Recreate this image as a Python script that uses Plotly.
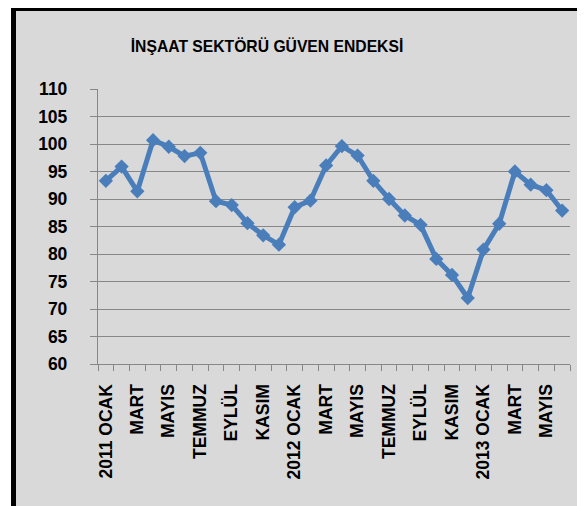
import plotly.graph_objects as go

title = "İNŞAAT SEKTÖRÜ GÜVEN ENDEKSİ"
months = ["2011 OCAK", "ŞUBAT", "MART", "NİSAN", "MAYIS", "HAZİRAN", "TEMMUZ", "AĞUSTOS",
          "EYLÜL", "EKİM", "KASIM", "ARALIK",
          "2012 OCAK", "ŞUBAT", "MART", "NİSAN", "MAYIS", "HAZİRAN", "TEMMUZ", "AĞUSTOS",
          "EYLÜL", "EKİM", "KASIM", "ARALIK",
          "2013 OCAK", "ŞUBAT", "MART", "NİSAN", "MAYIS", "HAZİRAN"]
values = [93.3, 95.9, 91.4, 100.7, 99.5, 97.8, 98.4, 89.6, 88.9, 85.6, 83.4, 81.7,
          88.5, 89.7, 96.1, 99.6, 97.9, 93.3, 90.0, 87.0, 85.3, 79.1, 76.2, 72.0,
          80.8, 85.5, 95.0, 92.6, 91.6, 87.9]
y_ticks = [60, 65, 70, 75, 80, 85, 90, 95, 100, 105, 110]

W, H = 585, 506
L, R, T, B = 90, 23, 81, 150

x = list(range(len(values)))
label_idx = list(range(0, len(months), 2))

fig = go.Figure()
fig.add_trace(go.Scatter(
    x=x, y=values, mode="lines+markers",
    line=dict(color="#4A7EBB", width=5),
    marker=dict(symbol="diamond", size=11, color="#4A7EBB"),
    hoverinfo="skip", showlegend=False,
))

font_family = "Liberation Sans, Arial, sans-serif"
grid = "#878787"

fig.update_layout(
    width=W, height=H,
    margin=dict(l=L, r=R, t=T, b=B, pad=0),
    paper_bgcolor="#d9d9d9", plot_bgcolor="#d9d9d9",
    title=dict(text=title, xref="container", yref="container",
               x=259 / W, y=1 - 38.5 / H, xanchor="center", yanchor="middle",
               font=dict(family=font_family, size=15.7, color="#000000", weight="bold")),
    xaxis=dict(
        range=[-0.5, len(values) - 0.5], showgrid=False, zeroline=False,
        tickmode="array", tickvals=label_idx, ticktext=[months[i] for i in label_idx],
        tickangle=-90, ticks="", ticklabelstandoff=12,
        tickfont=dict(family=font_family, size=17.5, color="#000000", weight="bold"),
        showline=True, linecolor=grid, linewidth=1.3,
        minor=dict(tick0=-0.5, dtick=1, ticks="outside", ticklen=6, tickcolor=grid,
                   tickwidth=1.3, showgrid=False),
    ),
    yaxis=dict(
        range=[60, 110], tickmode="array", tickvals=y_ticks,
        ticktext=[str(v) for v in y_ticks],
        showgrid=True, gridcolor=grid, gridwidth=1.3, zeroline=False,
        ticks="outside", ticklen=7, tickcolor=grid, tickwidth=1.3,
        ticklabelstandoff=19,
        tickfont=dict(family=font_family, size=17.5, color="#000000", weight="bold"),
        showline=True, linecolor=grid, linewidth=1.3,
    ),
)

def px_x(p):
    return (p - L) / (W - L - R)

def px_y(p):
    return 1 - (p - T) / (H - T - B)

shapes = [
    dict(type="rect", xref="paper", yref="paper", x0=px_x(0), x1=px_x(3), y0=px_y(H), y1=px_y(0),
         fillcolor="#ffffff", line=dict(width=0), layer="above"),
    dict(type="rect", xref="paper", yref="paper", x0=px_x(3), x1=px_x(8), y0=px_y(H), y1=px_y(0),
         fillcolor="#000000", line=dict(width=0), layer="above"),
    dict(type="rect", xref="paper", yref="paper", x0=px_x(3), x1=px_x(W), y0=px_y(3), y1=px_y(0),
         fillcolor="#000000", line=dict(width=0), layer="above"),
    dict(type="rect", xref="paper", yref="paper", x0=px_x(3), x1=px_x(W), y0=px_y(H), y1=px_y(503),
         fillcolor="#000000", line=dict(width=0), layer="above"),
]
fig.update_layout(shapes=shapes)

fig.write_html("out.html")
